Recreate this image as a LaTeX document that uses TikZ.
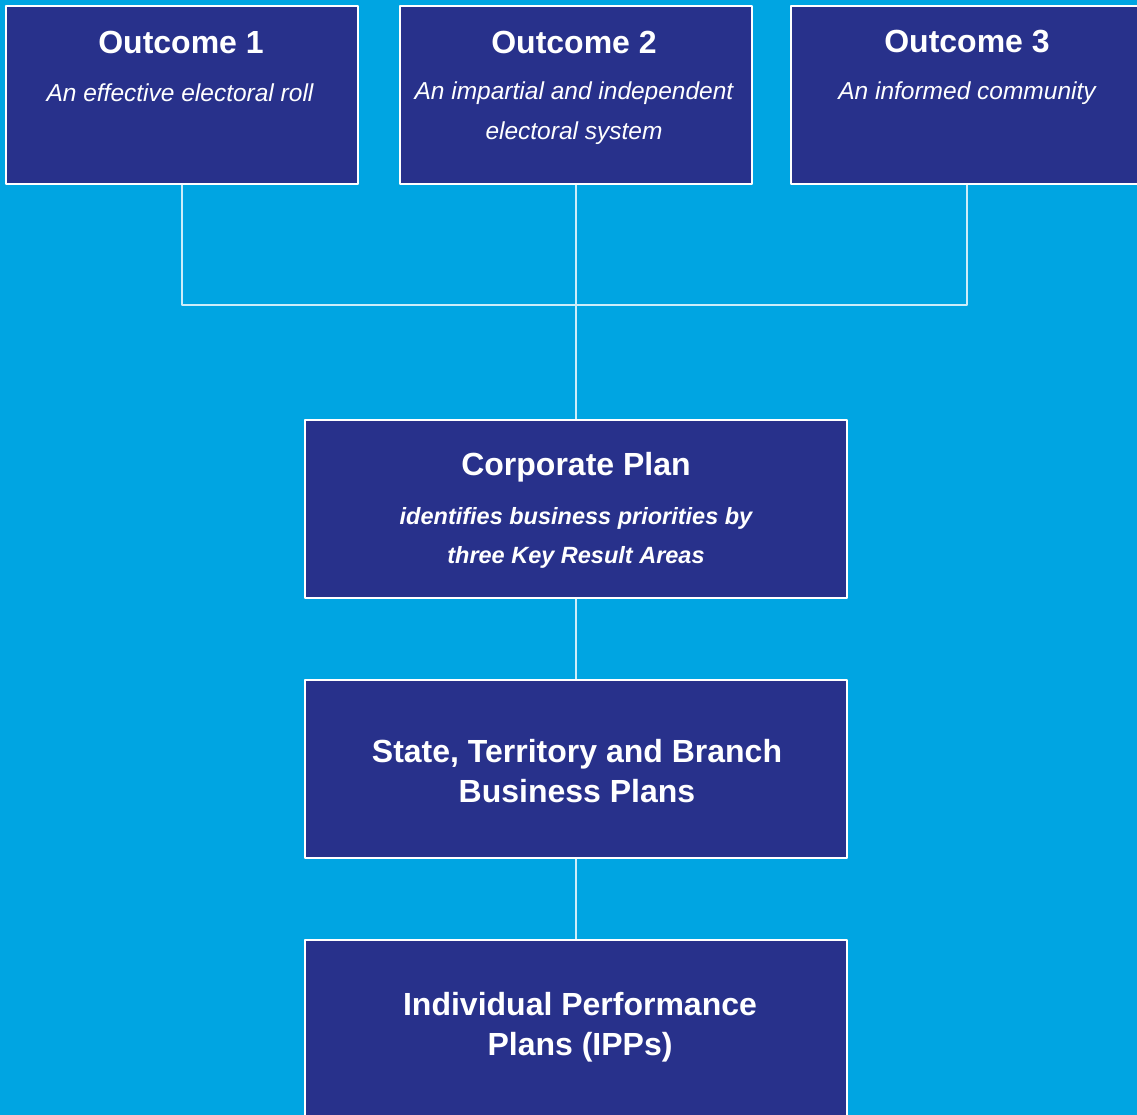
\documentclass[tikz,border=0pt]{standalone}
\usepackage{fontspec}
\setmainfont{Liberation Sans}
\definecolor{aecsky}{RGB}{0,165,226}
\definecolor{aecnavy}{RGB}{40,49,139}
\tikzset{
	planbox/.style={draw=white, line width=1.2pt, fill=aecnavy, minimum width=542pt, minimum height=178pt, inner sep=0pt},
	outbox/.style={planbox, minimum width=352pt},
	head/.style={text=white, align=center, font=\bfseries\fontsize{32}{40}\selectfont},
	sub/.style={text=white, align=center, font=\itshape\fontsize{24.5}{40}\selectfont},
	link/.style={draw=white!80!aecsky, line width=1.2pt}
}
\begin{document}
\begin{tikzpicture}[x=1pt,y=-1pt, line join=round]
			\fill[aecsky] (0,0) rectangle (1137,1115);
			\clip (0,0) rectangle (1137,1115);
			% outcomes
			\node[outbox] (o1) at (182,95) {};
			\node[outbox] (o2) at (576,95) {};
			\node[outbox] (o3) at (967,95) {};
			\node[head] (o1h) at (181,42) {Outcome 1};
			\node[sub] (o1s) at (180,93) {An effective electoral roll};
			\node[head] (o2h) at (574,42) {Outcome 2};
			\node[sub] (o2s) at (574,113) {An impartial and independent\\electoral system};
			\node[head] (o3h) at (967,42) {Outcome 3};
			\node[sub] (o3s) at (967,93) {An informed community};
			% plans
			\node[planbox] (cp) at (576,509) {};
			\node[planbox] (sb) at (576,769) {};
			\node[planbox] (ipp) at (576,1029) {};
			\node[head] (cph) at (576,467) {Corporate Plan};
			\node[sub, font=\bfseries\itshape\fontsize{23.5}{39}\selectfont] (cps) at (576,538) {identifies business priorities by\\three Key Result Areas};
			\node[head] (sbh) at (577,771) {State, Territory and Branch\\Business Plans};
			\node[head] (ipph) at (580,1027) {Individual Performance\\Plans (IPPs)};
			% connectors
			\coordinate (join) at (576,305);
			\draw[link] (o1.south) |- (join) -| (o3.south);
			\draw[link] (o2.south) -- (cp.north);
			\draw[link] (cp.south) -- (sb.north);
			\draw[link] (sb.south) -- (ipp.north);
\end{tikzpicture}
\end{document}
